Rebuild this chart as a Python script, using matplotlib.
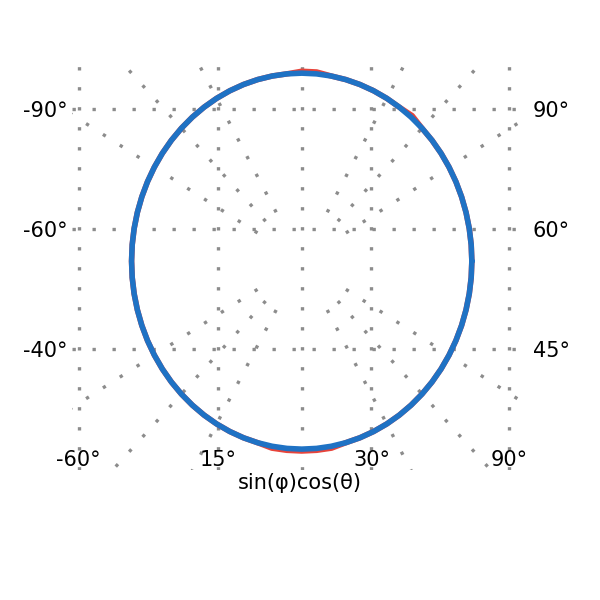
import numpy as np
import matplotlib
matplotlib.use("Agg")
import matplotlib.pyplot as plt

# ---- data ----
angles_deg = [0, 5, 10, 15, 20, 25, 30, 35, 40, 45, 50, 55, 60, 65, 70, 75, 80, 85,
              90, 95, 100, 105, 110, 115, 120, 125, 130, 135, 140, 145, 150, 155, 160, 165, 170, 175,
              180, 185, 190, 195, 200, 205, 210, 215, 220, 225, 230, 235, 240, 245, 250, 255, 260, 265,
              270, 275, 280, 285, 290, 295, 300, 305, 310, 315, 320, 325, 330, 335, 340, 345, 350, 355, 360]
radius_blue = [1.00, 1.00, 1.00, 1.00, 1.00, 1.00, 1.00, 1.00, 1.00, 1.00, 1.00, 1.00, 1.00, 1.00, 1.00, 1.00, 1.00, 1.00,
               1.00, 1.00, 1.00, 1.00, 1.00, 1.00, 1.00, 1.00, 1.00, 1.00, 1.00, 1.00, 1.00, 1.00, 1.00, 1.00, 1.00, 1.00,
               1.00, 1.00, 1.00, 1.00, 1.00, 1.00, 1.00, 1.00, 1.00, 1.00, 1.00, 1.00, 1.00, 1.00, 1.00, 1.00, 1.00, 1.00,
               1.00, 1.00, 1.00, 1.00, 1.00, 1.00, 1.00, 1.00, 1.00, 1.00, 1.00, 1.00, 1.00, 1.00, 1.00, 1.00, 1.00, 1.00, 1.00]
radius_red = [1.00, 1.00, 1.00, 1.00, 1.00, 1.00, 1.00, 1.00, 1.00, 1.00, 1.01, 1.00, 1.00, 1.00, 1.00, 1.00, 1.00, 1.01,
              1.01, 1.00, 1.00, 1.00, 1.00, 1.00, 1.00, 1.00, 1.00, 1.00, 1.00, 1.00, 1.00, 1.00, 1.00, 1.00, 1.00, 1.00,
              1.00, 1.00, 1.00, 1.00, 1.00, 1.00, 1.00, 1.00, 1.00, 1.00, 1.00, 1.00, 1.00, 1.00, 1.00, 1.00, 1.01, 1.01,
              1.01, 1.01, 1.01, 1.00, 1.00, 1.00, 1.00, 1.00, 1.00, 1.00, 1.00, 1.00, 1.00, 1.00, 1.00, 1.00, 1.00, 1.00, 1.00]
left_ticks = [0.81, 0.17, -0.47]
left_labels = ["-90°", "-60°", "-40°"]
right_labels = ["90°", "60°", "45°"]
bottom_ticks = [-1.31, -0.49, 0.41, 1.22]
bottom_labels = ["-60°", "15°", "30°", "90°"]
radial_angles_deg = [30, 45, 60, 120, 135, 150, 210, 225, 240, 300, 315, 330]
x_label = "sin(φ)cos(θ)"

GRID = dict(color="#8c8c8c", lw=2.4, ls=(0, (1, 5)))

fig = plt.figure(figsize=(6, 6), dpi=100)
ax = fig.add_axes([0.12, 0.217, 0.76, 0.683])

th = np.deg2rad(angles_deg)
ax.plot(np.array(radius_red) * np.cos(th), np.array(radius_red) * np.sin(th),
        color="#e8443a", lw=4, solid_capstyle="round", zorder=3)
ax.plot(np.array(radius_blue) * np.cos(th), np.array(radius_blue) * np.sin(th),
        color="#1f72c4", lw=4, solid_capstyle="round", zorder=4)

# radial dotted lines from the centre
for a in radial_angles_deg:
    r = np.deg2rad(a)
    ax.plot([0.3 * np.cos(r), 2.2 * np.cos(r)], [0.3 * np.sin(r), 2.2 * np.sin(r)],
            zorder=1, **GRID)

ax.set_xlim(-1.35, 1.33)
ax.set_ylim(-1.11, 1.07)
ax.set_yticks(left_ticks)
ax.set_yticklabels(left_labels)
ax.set_xticks(bottom_ticks)
ax.set_xticklabels(bottom_labels)
ax.grid(True, **GRID)
ax.axvline(0, **GRID)
ax.tick_params(length=0, labelsize=15)
ax.xaxis.set_tick_params(pad=-14)
for s in ax.spines.values():
    s.set_visible(False)
ax.set_xlabel(x_label, fontsize=15, labelpad=2)

ax2 = ax.twinx()
ax2.set_ylim(ax.get_ylim())
ax2.set_yticks(left_ticks)
ax2.set_yticklabels(right_labels)
ax2.tick_params(length=0, labelsize=15)
for s in ax2.spines.values():
    s.set_visible(False)

fig.savefig("out.png", dpi=100)
